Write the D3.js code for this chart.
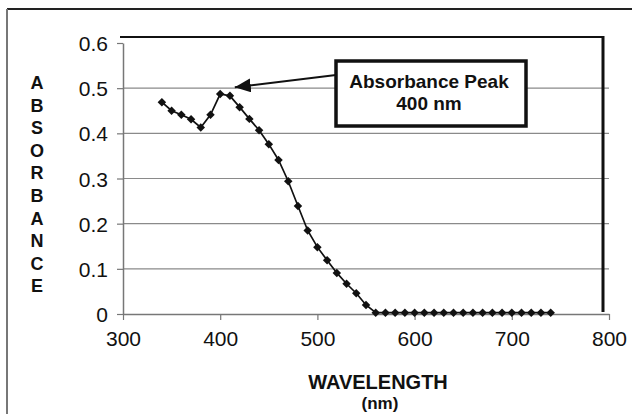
<!DOCTYPE html>
<html>
<head>
<meta charset="utf-8">
<script src="https://cdn.jsdelivr.net/npm/d3@7"></script>
<style>
  body { margin: 0; background: #fff; }
  svg { display: block; font-family: "Liberation Sans", Arial, sans-serif; }
</style>
</head>
<body>
<svg id="chart" width="632" height="414"></svg>
<script>
// wavelength (nm) and measured absorbance
const wavelengths = [340, 350, 360, 370, 380, 390, 400, 410, 420, 430, 440, 450, 460, 470, 480,
  490, 500, 510, 520, 530, 540, 550, 560, 570, 580, 590, 600, 610, 620, 630, 640, 650,
  660, 670, 680, 690, 700, 710, 720, 730, 740];
const absorbance = [0.469, 0.450, 0.441, 0.431, 0.413, 0.441, 0.487, 0.483, 0.458, 0.432, 0.407,
  0.376, 0.341, 0.294, 0.239, 0.185, 0.148, 0.119, 0.091, 0.067, 0.046, 0.020, 0.003, 0.003,
  0.003, 0.003, 0.003, 0.003, 0.003, 0.003, 0.003, 0.003, 0.003, 0.003, 0.003, 0.003, 0.003,
  0.003, 0.003, 0.003, 0.003];
const xTicks = [300, 400, 500, 600, 700, 800];
const yTicks = [0, 0.1, 0.2, 0.3, 0.4, 0.5, 0.6];
const yTitle = "ABSORBANCE".split("");
const peakLabel = ["Absorbance Peak", "400 nm"];
const peakPoint = [415, 0.502];

const points = wavelengths.map((w, i) => ({x: w, y: absorbance[i]}));

const svg = d3.select("#chart");
const x = d3.scaleLinear().domain([300, 800]).range([123, 609]);
const y = d3.scaleLinear().domain([0, 0.6]).range([314, 43]);

// outer frame
svg.append("line").attr("x1", 7).attr("x2", 632).attr("y1", 9).attr("y2", 9)
  .attr("stroke", "#222").attr("stroke-width", 2);
svg.append("line").attr("x1", 7).attr("x2", 7).attr("y1", 9).attr("y2", 414)
  .attr("stroke", "#777").attr("stroke-width", 2);

// gridlines
svg.append("g").selectAll("line")
  .data(yTicks.slice(1, -1))
  .join("line")
    .attr("x1", x(300)).attr("x2", x(800))
    .attr("y1", d => y(d)).attr("y2", d => y(d))
    .attr("stroke", "#8a8a8a").attr("stroke-width", 1.2);

// plot area border (top + right, dark)
svg.append("line").attr("x1", 120).attr("x2", 604).attr("y1", 37).attr("y2", 37)
  .attr("stroke", "#111").attr("stroke-width", 2);
svg.append("line").attr("x1", 603).attr("x2", 603).attr("y1", 36).attr("y2", 312)
  .attr("stroke", "#111").attr("stroke-width", 3);

// axes
const xAxis = svg.append("g")
  .attr("transform", `translate(0,${y(0)})`)
  .call(d3.axisBottom(x).tickValues(xTicks).tickSize(6).tickSizeOuter(0).tickPadding(11));
const yAxis = svg.append("g")
  .attr("transform", `translate(${x(300)},0)`)
  .call(d3.axisLeft(y).tickValues(yTicks).tickFormat(d3.format("~g")).tickSize(6).tickSizeOuter(0).tickPadding(9));
[xAxis, yAxis].forEach(a => {
  a.select(".domain").attr("stroke", "#777").attr("stroke-width", 1.5);
  a.selectAll(".tick line").attr("stroke", "#777").attr("stroke-width", 1.2);
  a.selectAll(".tick text").attr("fill", "#111").attr("font-size", 21)
    .attr("font-family", "Liberation Sans, Arial, sans-serif");
});
yAxis.selectAll(".tick text").attr("dy", "0.36em");

// data line + diamond markers
svg.append("path")
  .datum(points)
  .attr("fill", "none").attr("stroke", "#111").attr("stroke-width", 1.7)
  .attr("d", d3.line().x(d => x(d.x)).y(d => y(d.y)));
svg.append("g").selectAll("path")
  .data(points)
  .join("path")
    .attr("transform", d => `translate(${x(d.x)},${y(d.y)}) rotate(45)`)
    .attr("d", d3.symbol(d3.symbolSquare, 36))
    .attr("fill", "#111");

// y axis title, letters stacked
svg.append("g").selectAll("text")
  .data(yTitle)
  .join("text")
    .attr("x", 37).attr("y", (d, i) => 89 + i * 22.6)
    .attr("text-anchor", "middle")
    .attr("font-size", 18).attr("font-weight", "bold").attr("fill", "#111")
    .text(d => d);

// x axis title
svg.append("text").attr("x", 378).attr("y", 389)
  .attr("text-anchor", "middle").attr("font-size", 20).attr("font-weight", "bold")
  .attr("fill", "#111").text("WAVELENGTH");
svg.append("text").attr("x", 380).attr("y", 409)
  .attr("text-anchor", "middle").attr("font-size", 17).attr("font-weight", "bold")
  .attr("fill", "#111").text("(nm)");

// annotation: arrow to peak + box
const tipX = x(peakPoint[0]), tipY = y(peakPoint[1]);
const boxX = 336, boxY = 61, boxW = 190, boxH = 65;
svg.append("defs").append("marker")
  .attr("id", "arrow").attr("viewBox", "0 0 16 14")
  .attr("refX", 16).attr("refY", 7)
  .attr("markerWidth", 16).attr("markerHeight", 14)
  .attr("markerUnits", "userSpaceOnUse").attr("orient", "auto")
  .append("path").attr("d", "M0,0 L16,7 L0,14 Z").attr("fill", "#111");
svg.append("line")
  .attr("x1", boxX).attr("y1", 75).attr("x2", tipX).attr("y2", tipY)
  .attr("stroke", "#111").attr("stroke-width", 2).attr("marker-end", "url(#arrow)");
svg.append("rect")
  .attr("x", boxX).attr("y", boxY).attr("width", boxW).attr("height", boxH)
  .attr("fill", "#fff").attr("stroke", "#111").attr("stroke-width", 3.5);
svg.append("g").selectAll("text")
  .data(peakLabel)
  .join("text")
    .attr("x", boxX + boxW / 2 - 2).attr("y", (d, i) => 88 + i * 22)
    .attr("text-anchor", "middle")
    .attr("font-size", 19).attr("font-weight", "bold").attr("fill", "#111")
    .text(d => d);
</script>
</body>
</html>
